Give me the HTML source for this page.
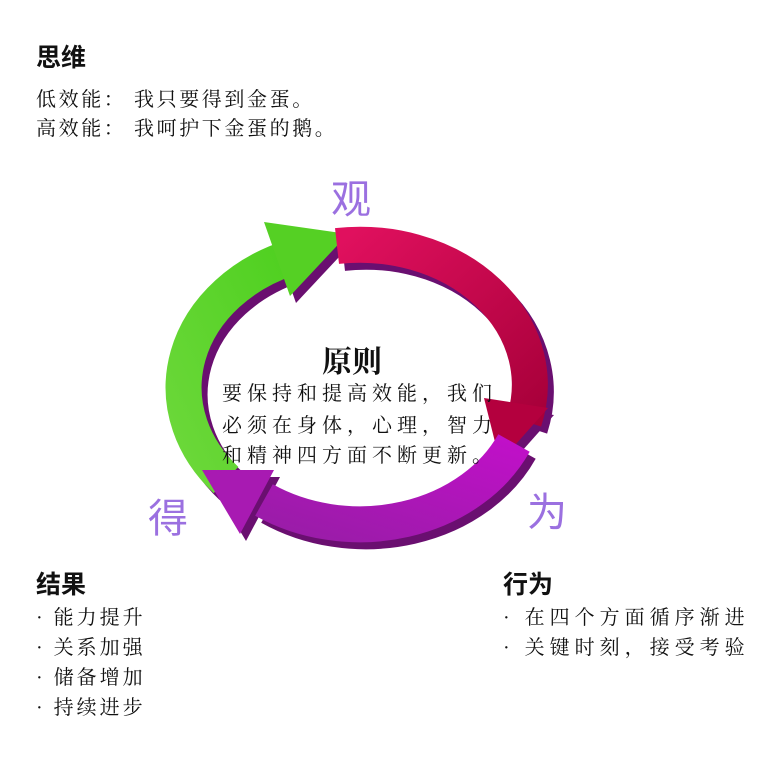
<!DOCTYPE html>
<html><head><meta charset="utf-8"><style>
body{margin:0;background:#fff;width:778px;height:767px;overflow:hidden;font-family:"Liberation Sans","Noto Sans CJK SC",sans-serif;}
</style></head><body>
<svg width="778" height="767" xmlns="http://www.w3.org/2000/svg" style="position:absolute;left:0;top:0">
<defs>
<linearGradient id="mg" x1="0" y1="0" x2="1" y2="1"><stop offset="0" stop-color="#e0105e"/><stop offset="1" stop-color="#a8003a"/></linearGradient>
<linearGradient id="pg" x1="1" y1="0" x2="0" y2="1"><stop offset="0" stop-color="#c010c8"/><stop offset="1" stop-color="#9a1ca8"/></linearGradient>
<linearGradient id="gg" x1="0" y1="1" x2="1" y2="0"><stop offset="0" stop-color="#6cd83a"/><stop offset="1" stop-color="#4fd020"/></linearGradient>
</defs>
<g transform="translate(6,7)" fill="#6a0f70" stroke="none">
<path d="M226 480 A170 140 0 0 1 289 258" fill="none" stroke="#6a0f70" stroke-width="36"/>
<polygon points="264,222 348,234 290,296"/>
<path d="M337 246 A170 140 0 0 1 524 421" fill="none" stroke="#6a0f70" stroke-width="36"/>
<polygon points="484,398 548,408 500,462"/>
<path d="M514 443 A170 140 0 0 1 264 500" fill="none" stroke="#6a0f70" stroke-width="36"/>
<polygon points="274,470 202,470 240,534"/>
</g>
<path d="M226 480 A170 140 0 0 1 289 258" fill="none" stroke="url(#gg)" stroke-width="36"/>
<polygon points="264,222 348,234 290,296" fill="#55d024"/>
<path d="M337 246 A170 140 0 0 1 524 421" fill="none" stroke="url(#mg)" stroke-width="36"/>
<polygon points="484,398 548,408 500,462" fill="#b4003e"/>
<path d="M514 443 A170 140 0 0 1 264 500" fill="none" stroke="url(#pg)" stroke-width="36"/>
<polygon points="274,470 202,470 240,534" fill="#a81ab2"/>
<g font-family="'Liberation Sans','Noto Sans CJK SC',sans-serif" fill="#9b70e0" font-size="40">
<text x="331" y="213">观</text>
<text x="148" y="532">得</text>
<text x="527" y="526">为</text>
</g>
<g font-family="'Liberation Serif','Noto Serif CJK SC',serif" fill="#111">
<text x="322" y="372" font-size="30" font-weight="bold">原则</text>
<text x="222" y="400" font-size="20" letter-spacing="5">要保持和提高效能，我们</text>
<text x="222" y="432" font-size="20" letter-spacing="5">必须在身体，心理，智力</text>
<text x="222" y="462" font-size="20" letter-spacing="5">和精神四方面不断更新。</text>
</g>
<g font-family="'Liberation Sans','Noto Sans CJK SC',sans-serif" fill="#111">
<text x="36" y="66" font-size="25" font-weight="bold">思维</text>
<text x="36" y="593" font-size="25" font-weight="bold">结果</text>
<text x="503" y="593" font-size="25" font-weight="bold">行为</text>
</g>
<g font-family="'Liberation Serif','Noto Serif CJK SC',serif" fill="#111" font-size="20" letter-spacing="3">
<text x="36" y="106" letter-spacing="2.6">低效能： 我只要得到金蛋。</text>
<text x="36" y="135" letter-spacing="2.6">高效能： 我呵护下金蛋的鹅。</text>
<text x="36" y="624">· 能力提升</text>
<text x="36" y="654">· 关系加强</text>
<text x="36" y="684">· 储备增加</text>
<text x="36" y="714">· 持续进步</text>
<text x="503" y="624" letter-spacing="5">· 在四个方面循序渐进</text>
<text x="503" y="654" letter-spacing="5">· 关键时刻，接受考验</text>
</g>
</svg>
</body></html>
